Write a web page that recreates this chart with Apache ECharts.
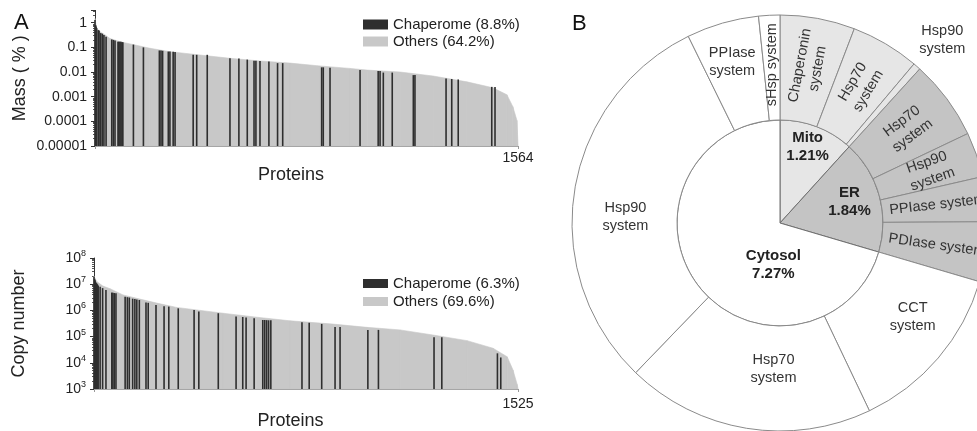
<!DOCTYPE html>
<html><head><meta charset="utf-8">
<script src="https://cdn.jsdelivr.net/npm/echarts@6/dist/echarts.min.js"></script>
<style>html,body{margin:0;padding:0;background:#fff}#c{width:977px;height:431px}</style>
</head><body><div id="c"></div>
<script>
// ---------- Panel A, top: protein mass (%) ranked ----------
const massTotal = 1564;
const massOthersIdx = [0,4,7,18,37,55,92,148,203,277,388,499,610,721,832,943,1006,1128,1250,1375,1471,1523,1545,1560,1564];
const massOthersVal = [1.5,0.8,0.6,0.43,0.32,0.23,0.17,0.125,0.092,0.067,0.049,0.036,0.028,0.023,0.0176,0.014,0.012,0.01,0.0069,0.004,0.0023,0.0012,0.00039,0.00011,0.000011];
const massChapIdx = [0,2,4,6,12,15,21,27,33,41,62,68,74,85,88,92,96,100,103,142,179,238,244,250,271,277,289,296,363,376,415,499,532,563,588,595,610,643,675,694,838,844,869,980,1047,1054,1066,1099,1177,1183,1298,1319,1343,1467,1479];
const massChapVal = [1.3,0.8,0.7,0.6,0.5,0.48,0.38,0.36,0.32,0.27,0.21,0.2,0.19,0.17,0.17,0.17,0.17,0.16,0.16,0.13,0.1,0.075,0.074,0.073,0.068,0.068,0.066,0.065,0.05,0.05,0.05,0.036,0.035,0.032,0.029,0.029,0.028,0.027,0.023,0.023,0.0155,0.0155,0.015,0.012,0.011,0.011,0.0095,0.0095,0.0075,0.0075,0.0055,0.0052,0.005,0.0025,0.0025];
const massLegend = ['Chaperome (8.8%)', 'Others (64.2%)'];

// ---------- Panel A, bottom: copy number ranked ----------
const copyTotal = 1525;
const copyOthersIdx = [0,10,32,58,104,165,226,297,369,464,585,705,860,982,1101,1219,1342,1435,1486,1507,1522,1525];
const copyOthersVal = [2.0e7,1.26e7,8.5e6,6.7e6,3.9e6,2.7e6,1.9e6,1.3e6,1.04e6,7.8e5,5.5e5,4.0e5,3.0e5,2.25e5,1.8e5,1.15e5,7e4,3.6e4,1.7e4,5.3e3,1.5e3,1.05e3];
const copyChapIdx = [0,2,4,6,9,12,15,22,31,43,64,68,73,79,112,120,127,139,147,154,163,187,195,223,252,269,303,360,377,447,511,535,547,576,607,614,621,628,636,748,774,819,867,885,985,1023,1223,1251,1451,1463];
const copyChapVal = [1.9e7,1.6e7,1.4e7,1.2e7,1.1e7,1.0e7,9e6,8e6,7.1e6,6e6,4.8e6,4.7e6,4.6e6,4.5e6,3.3e6,3.2e6,3.1e6,2.8e6,2.7e6,2.6e6,2.5e6,2.0e6,1.95e6,1.6e6,1.45e6,1.4e6,1.2e6,1.03e6,9e5,7.8e5,5.8e5,5.6e5,5.4e5,5e5,4.3e5,4.3e5,4.25e5,4.2e5,4.2e5,3.5e5,3.4e5,3.05e5,2.3e5,2.3e5,1.8e5,1.8e5,9.4e4,9.4e4,2.3e4,1.6e4];
const copyLegend = ['Chaperome (6.3%)', 'Others (69.6%)'];

// ---------- Panel B: chaperome mass by compartment ----------
const innerNames = ['Mito', 'ER', 'Cytosol'];
const innerValues = [1.21, 1.84, 7.27];
const outerNames = ['Chaperonin\nsystem','Hsp70\nsystem','Hsp90\nsystem','Hsp70\nsystem','Hsp90\nsystem','PPIase system','PDIase system','CCT\nsystem','Hsp70\nsystem','Hsp90\nsystem','PPIase\nsystem','sHsp system'];
const outerCompartment = ['Mito','Mito','Mito','ER','ER','ER','ER','Cytosol','Cytosol','Cytosol','Cytosol','Cytosol'];
const outerValues = [0.60,0.55,0.06,0.64,0.36,0.36,0.48,1.38,1.99,3.15,0.58,0.17];

// ---------- styles ----------
const FONT = 'Liberation Sans, Arial, sans-serif';
const compColor = {Mito:'#e6e6e6', ER:'#c4c4c4', Cytosol:'#ffffff'};
const chapColor = '#2e2e2e', otherColor = '#c8c8c8';
const innerShift = {0:[8,-25], 1:[17,-6], 2:[37,9]};
const outerShift = {2:[58,-64], 7:[12,-9], 8:[19,-10], 9:[2,19], 10:[-4,-9]};
const outerRotate = {2:0, 7:0, 8:0, 9:0, 10:0, 11:90};

const zip = (a, b) => a.map((v, i) => [v, b[i]]);

function areaItem(params, api) {
  const i = params.dataIndexInside;
  if (i >= params.dataInsideLength - 1) return null;
  const p0 = api.coord([api.value(0, i), api.value(1, i)]);
  const p1 = api.coord([api.value(0, i + 1), api.value(1, i + 1)]);
  const yb = params.coordSys.y + params.coordSys.height;
  const c = api.visual('color');
  return {type:'polygon', shape:{points:[p0, p1, [p1[0], yb], [p0[0], yb]]},
          style:{fill:c, stroke:c, lineWidth:0.6}};
}
function barItem(params, api) {
  const p = api.coord([api.value(0), api.value(1)]);
  const yb = params.coordSys.y + params.coordSys.height;
  return {type:'rect', shape:{x:p[0] - 0.8, y:p[1], width:1.6, height:yb - p[1]},
          style:{fill:api.visual('color')}};
}
const isPow = v => { const e = Math.log10(v); return Math.abs(e - Math.round(e)) < 1e-6; };

function yAxisBase(gi, min, max, name, gap, fmt, rich) {
  return {
    type:'log', logBase:10, gridIndex:gi, min:min, max:max,
    axisLine:{show:true, lineStyle:{color:'#333', width:1}},
    axisTick:{show:true, length:4, lineStyle:{color:'#333'}},
    minorTick:{show:true, length:2, splitNumber:9, lineStyle:{color:'#555'}},
    splitLine:{show:false}, minorSplitLine:{show:false},
    axisLabel:{formatter:fmt, fontSize:14, color:'#222', fontFamily:FONT, margin:8, rich:rich},
    name:name, nameLocation:'middle', nameGap:gap,
    nameTextStyle:{fontSize:18, color:'#222', fontFamily:FONT}
  };
}
function xAxisBase(gi, max, labelMargin, nameGap) {
  return {
    type:'value', gridIndex:gi, min:0, max:max, interval:max,
    axisLine:{show:true, lineStyle:{color:'#999'}},
    axisTick:{show:true, length:3, lineStyle:{color:'#999'}},
    splitLine:{show:false},
    axisLabel:{formatter:v => Math.round(v) === max ? String(max) : '', fontSize:14, color:'#222', fontFamily:FONT, margin:labelMargin},
    name:'Proteins', nameLocation:'middle', nameGap:nameGap,
    nameTextStyle:{fontSize:18, color:'#222', fontFamily:FONT, padding:[0,31,0,0]}
  };
}

const option = {
  animation:false,
  textStyle:{fontFamily:FONT},
  graphic:[
    {type:'text', left:14, top:12, style:{text:'A', fontSize:22, fill:'#111', fontFamily:FONT}},
    {type:'text', left:572, top:13, style:{text:'B', fontSize:22, fill:'#111', fontFamily:FONT}}
  ],
  grid:[
    {left:95, top:10.4, width:423, height:135.6},
    {left:94, top:258, width:424, height:131}
  ],
  legend:[
    {data:massLegend, orient:'vertical', left:363, top:17, padding:0, icon:'rect', itemWidth:25, itemHeight:10, itemGap:2,
     selectedMode:false, textStyle:{fontSize:15, color:'#222', lineHeight:10, fontFamily:FONT}},
    {data:copyLegend, orient:'vertical', left:363, top:276, padding:0, icon:'rect', itemWidth:25, itemHeight:9, itemGap:3,
     selectedMode:false, textStyle:{fontSize:15, color:'#222', lineHeight:10, fontFamily:FONT}}
  ],
  xAxis:[ xAxisBase(0, massTotal, 5, 10), xAxisBase(1, copyTotal, 8, 19) ],
  yAxis:[
    yAxisBase(0, 1e-5, Math.pow(10, 0.5), 'Mass ( % )', 66, v => {
      if (!isPow(v)) return '';
      const n = Math.round(Math.log10(v));
      return n >= 0 ? String(Math.pow(10, n)) : Math.pow(10, n).toFixed(-n);
    }),
    yAxisBase(1, 1e3, 1e8, 'Copy number', 66, v => {
      if (!isPow(v)) return '';
      return '{b|10}{s|' + Math.round(Math.log10(v)) + '}';
    }, {b:{fontSize:14, color:'#222', fontFamily:FONT, lineHeight:18},
        s:{fontSize:9, color:'#222', fontFamily:FONT, verticalAlign:'top', lineHeight:10}})
  ],
  series:[
    {type:'custom', name:massLegend[1], xAxisIndex:0, yAxisIndex:0, renderItem:areaItem,
     data:zip(massOthersIdx, massOthersVal), itemStyle:{color:otherColor}, silent:true, z:1},
    {type:'custom', name:massLegend[0], xAxisIndex:0, yAxisIndex:0, renderItem:barItem,
     data:zip(massChapIdx, massChapVal), itemStyle:{color:chapColor}, silent:true, z:2},
    {type:'custom', name:copyLegend[1], xAxisIndex:1, yAxisIndex:1, renderItem:areaItem,
     data:zip(copyOthersIdx, copyOthersVal), itemStyle:{color:otherColor}, silent:true, z:1},
    {type:'custom', name:copyLegend[0], xAxisIndex:1, yAxisIndex:1, renderItem:barItem,
     data:zip(copyChapIdx, copyChapVal), itemStyle:{color:chapColor}, silent:true, z:2},
    {type:'pie', name:'compartment', center:[780, 223], radius:[0, 103], startAngle:90, clockwise:true,
     silent:true, emphasis:{disabled:true},
     data:innerNames.map((n, i) => ({name:n, value:innerValues[i], itemStyle:{color:compColor[n]}})),
     itemStyle:{borderColor:'#6e6e6e', borderWidth:1},
     label:{show:true, position:'inside', formatter:p => p.name + '\n' + p.value.toFixed(2) + '%',
            fontSize:15, fontWeight:'bold', color:'#222', lineHeight:18, fontFamily:FONT},
     labelLine:{show:false},
     labelLayout:p => { const s = innerShift[p.dataIndex]; return s ? {dx:s[0], dy:s[1]} : {}; }
    },
    {type:'pie', name:'system', center:[780, 223], radius:[103, 208], startAngle:90, clockwise:true,
     silent:true, emphasis:{disabled:true},
     data:outerNames.map((n, i) => ({name:n, value:outerValues[i],
        itemStyle:{color:compColor[outerCompartment[i]]},
        label:{rotate: (i in outerRotate) ? outerRotate[i] : 'radial'}})),
     itemStyle:{borderColor:'#8a8a8a', borderWidth:1},
     label:{show:true, position:'inside', formatter:'{b}', fontSize:14.5, color:'#333', lineHeight:18, fontFamily:FONT},
     labelLine:{show:false},
     labelLayout:p => { const s = outerShift[p.dataIndex]; return s ? {dx:s[0], dy:s[1]} : {}; }
    }
  ]
};
const chart = echarts.init(document.getElementById('c'), null, {renderer:'canvas'});
chart.setOption(option);
</script></body></html>
